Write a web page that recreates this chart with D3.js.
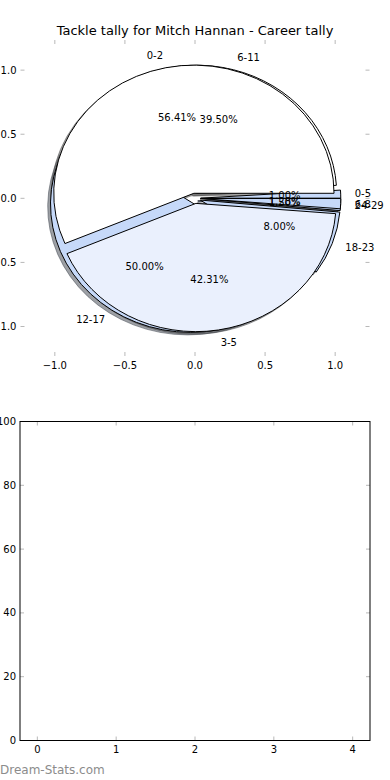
<!DOCTYPE html>
<html><head><meta charset="utf-8">
<script src="https://cdn.jsdelivr.net/npm/d3@7"></script>
<style>
body{margin:0;background:#fff}
svg{display:block}
text{font-family:"DejaVu Sans",sans-serif;fill:#000}
</style>
</head><body>
<svg id="c" width="390" height="780"></svg>
<script>
const chartTitle = "Tackle tally for Mitch Hannan - Career tally";
// Pie A (drawn on top)
const pieALabels = ["0-2", "3-5", "6-8"];
const pieAValues = [56.41, 42.31, 1.28];
// Pie B (drawn underneath)
const pieBLabels = ["0-5", "6-11", "12-17", "18-23", "24-29"];
const pieBValues = [1.00, 39.50, 50.00, 8.00, 1.50];
const pieTicks = [-1.0, -0.5, 0.0, 0.5, 1.0];
const barXTicks = [0, 1, 2, 3, 4];
const barYTicks = [0, 20, 40, 60, 80, 100];
const watermark = "Dream-Stats.com";

const WHITE = "#ffffff", LIGHT = "#eaf0fd", MID = "#c6d9f9";
const pieAColors = [WHITE, LIGHT, MID];
const pieBColors = [MID, WHITE, MID, MID, MID];
const EXPLODE = 0.04;

const svg = d3.select("#c");

// ---------- Pie axes ----------
const pL = 20.5, pR = 369.5, pT = 40, pB = 356;
const px = d3.scaleLinear().domain([-1.245, 1.245]).range([pL, pR]);
const py = d3.scaleLinear().domain([-1.23, 1.235]).range([pB, pT]);
const sx = px(1) - px(0), sy = py(0) - py(1);

svg.append("text").attr("x", 195).attr("y", 30).attr("dy", "0.35em")
  .attr("text-anchor", "middle").style("font-size", "13px").text(chartTitle);

const tickCol = "#b8b8b8";
const tg = svg.append("g");
pieTicks.forEach(v => {
  tg.append("line").attr("x1", px(v)).attr("x2", px(v)).attr("y1", pT).attr("y2", pT + 4).attr("stroke", tickCol);
  tg.append("line").attr("x1", px(v)).attr("x2", px(v)).attr("y1", pB).attr("y2", pB - 4).attr("stroke", tickCol);
  tg.append("line").attr("y1", py(v)).attr("y2", py(v)).attr("x1", pL).attr("x2", pL + 4).attr("stroke", tickCol);
  tg.append("line").attr("y1", py(v)).attr("y2", py(v)).attr("x1", pR).attr("x2", pR - 4).attr("stroke", tickCol);
  tg.append("text").attr("x", px(v)).attr("y", pB + 13).attr("text-anchor", "middle")
    .style("font-size", "10px").text(d3.format(".1f")(v));
  tg.append("text").attr("x", pL - 4).attr("y", py(v)).attr("dy", "0.35em").attr("text-anchor", "end")
    .style("font-size", "10px").text(d3.format(".1f")(v));
});

const pieGen = d3.pie().sort(null).value(d => d)
  .startAngle(Math.PI / 2).endAngle(Math.PI / 2 - 2 * Math.PI);
const arcGen = d3.arc().innerRadius(0).outerRadius(1);

function build(labels, values, colors) {
  const total = d3.sum(values);
  return pieGen(values).map((a, i) => {
    const m = (a.startAngle + a.endAngle) / 2;
    const dx = Math.sin(m), dy = Math.cos(m);
    return {a, label: labels[i], color: colors[i], pct: 100 * values[i] / total,
      ox: EXPLODE * dx, oy: EXPLODE * dy, dx, dy};
  });
}
const wedgesB = build(pieBLabels, pieBValues, pieBColors);
const wedgesA = build(pieALabels, pieAValues, pieAColors);
const all = wedgesB.concat(wedgesA);

const shadowLayer = svg.append("g");
const wedgeLayer = svg.append("g");
const textLayer = svg.append("g");

function shadowColor(c) {
  const r = d3.rgb(c);
  return d3.rgb(r.r * 0.3, r.g * 0.3, r.b * 0.3);
}

all.forEach(w => {
  const sc = shadowColor(w.color);
  shadowLayer.append("path")
    .attr("transform", `translate(${px(w.ox - 0.02)},${py(w.oy - 0.02)}) scale(${sx},${sy})`)
    .attr("d", arcGen(w.a))
    .attr("fill", sc).attr("fill-opacity", 0.5)
    .attr("stroke", sc).attr("stroke-opacity", 0.5).attr("stroke-width", 1)
    .attr("vector-effect", "non-scaling-stroke");
});
all.forEach(w => {
  wedgeLayer.append("path")
    .attr("transform", `translate(${px(w.ox)},${py(w.oy)}) scale(${sx},${sy})`)
    .attr("d", arcGen(w.a))
    .attr("fill", w.color).attr("stroke", "#000").attr("stroke-width", 1)
    .attr("stroke-linejoin", "miter")
    .attr("vector-effect", "non-scaling-stroke");
});
all.forEach(w => {
  const lx = w.ox + 1.1 * w.dx, ly = w.oy + 1.1 * w.dy;
  textLayer.append("text").attr("x", px(lx)).attr("y", py(ly)).attr("dy", "0.35em")
    .attr("text-anchor", lx > 0 ? "start" : "end").style("font-size", "10px").text(w.label);
  const tx = w.ox + 0.6 * w.dx, ty = w.oy + 0.6 * w.dy;
  textLayer.append("text").attr("x", px(tx)).attr("y", py(ty)).attr("dy", "0.35em")
    .attr("text-anchor", "middle").style("font-size", "10px").text(d3.format(".2f")(w.pct) + "%");
});

// ---------- Empty bottom axes ----------
const bL = 20, bR = 370, bT = 421.5, bB = 740.5;
const bx = d3.scaleLinear().domain([-0.22, 4.22]).range([bL, bR]);
const by = d3.scaleLinear().domain([0, 100]).range([bB, bT]);
const bg = svg.append("g");
barXTicks.forEach(v => {
  bg.append("line").attr("x1", bx(v)).attr("x2", bx(v)).attr("y1", bB).attr("y2", bB - 4).attr("stroke", tickCol);
  bg.append("line").attr("x1", bx(v)).attr("x2", bx(v)).attr("y1", bT).attr("y2", bT + 4).attr("stroke", tickCol);
  bg.append("text").attr("x", bx(v)).attr("y", bB + 12).attr("text-anchor", "middle")
    .style("font-size", "10px").text(v);
});
barYTicks.forEach(v => {
  bg.append("line").attr("y1", by(v)).attr("y2", by(v)).attr("x1", bL).attr("x2", bL + 4).attr("stroke", tickCol);
  bg.append("line").attr("y1", by(v)).attr("y2", by(v)).attr("x1", bR).attr("x2", bR - 4).attr("stroke", tickCol);
  bg.append("text").attr("x", bL - 4).attr("y", by(v)).attr("dy", "0.35em").attr("text-anchor", "end")
    .style("font-size", "10px").text(v);
});
bg.append("rect").attr("x", bL).attr("y", bT).attr("width", bR - bL).attr("height", bB - bT)
  .attr("fill", "none").attr("stroke", "#000").attr("stroke-width", 1);

svg.append("text").attr("x", 0).attr("y", 774).style("font-size", "12px")
  .style("fill", "#8c8c8c").text(watermark);
</script>
</body></html>
